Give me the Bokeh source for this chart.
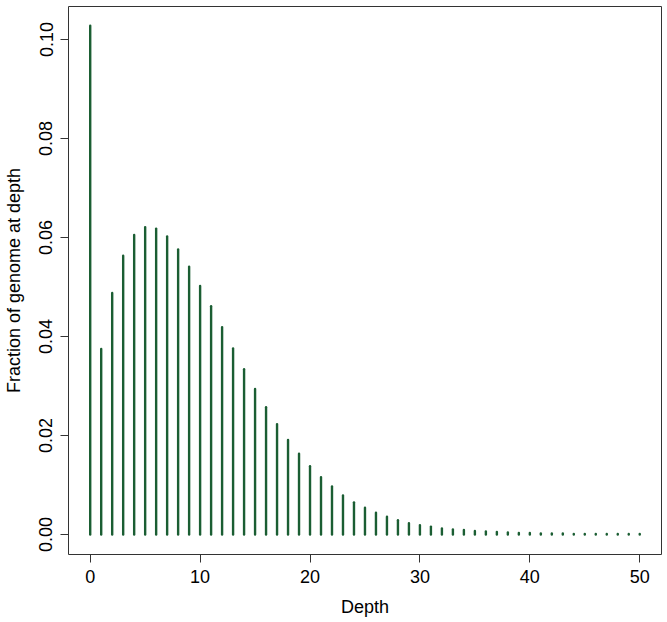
from bokeh.plotting import figure
from bokeh.models import Range1d, FixedTicker
from bokeh.embed import file_html
from bokeh.resources import INLINE

depth = list(range(51))
fraction = [
    0.1028, 0.0375, 0.0488, 0.0563, 0.0605, 0.0621, 0.0618, 0.0602, 0.0576, 0.0541,
    0.0502, 0.0461, 0.0419, 0.0376, 0.0334, 0.0294, 0.0257, 0.0223, 0.0191, 0.0163,
    0.0138, 0.0116, 0.0097, 0.0079, 0.0065, 0.0054, 0.0044, 0.0036, 0.0029, 0.0023,
    0.0019, 0.0016, 0.0012, 0.0010, 0.0009, 0.0007, 0.0006, 0.0005, 0.0004, 0.0003,
    0.0003, 0.0002, 0.0002, 0.0002, 0.0001, 0.0001, 0.0001, 0.0001, 0.0001, 0.0001,
    0.0001,
]
x_ticks = [0, 10, 20, 30, 40, 50]
y_ticks = [0.0, 0.02, 0.04, 0.06, 0.08, 0.10]
y_tick_labels = ["0.00", "0.02", "0.04", "0.06", "0.08", "0.10"]

FONT = "Liberation Sans"

p = figure(
    frame_width=593, frame_height=548,
    output_backend="svg", toolbar_location=None,
    x_range=Range1d(-1.975, 51.98), y_range=Range1d(-0.00404, 0.10667),
    min_border_top=6, min_border_right=6, min_border_left=67, min_border_bottom=0,
)
p.background_fill_color = "white"
p.border_fill_color = "white"
p.outline_line_color = "#333333"
p.outline_line_width = 1
p.grid.visible = False

p.segment(x0=depth, y0=[0] * len(depth), x1=depth, y1=fraction,
          line_color="#1b5e33", line_width=2.4, line_cap="round")

for ax in (p.xaxis[0], p.yaxis[0]):
    ax.axis_line_color = None
    ax.major_tick_line_color = "#333333"
    ax.major_tick_out = 8
    ax.major_tick_in = 0
    ax.minor_tick_line_color = None
    ax.major_label_text_font = FONT
    ax.major_label_text_font_size = "18px"
    ax.major_label_text_color = "black"
    ax.axis_label_text_font = FONT
    ax.axis_label_text_font_size = "18px"
    ax.axis_label_text_font_style = "normal"
    ax.axis_label_text_color = "black"

p.xaxis.ticker = FixedTicker(ticks=x_ticks)
p.yaxis.ticker = FixedTicker(ticks=y_ticks)
p.yaxis.major_label_overrides = {t: l for t, l in zip(y_ticks, y_tick_labels)}
p.yaxis.major_label_orientation = "vertical"
p.xaxis.axis_label = "Depth"
p.yaxis.axis_label = "Fraction of genome at depth"
p.xaxis.major_label_standoff = 7
p.xaxis.axis_label_standoff = 11
p.yaxis.major_label_standoff = 8
p.yaxis.axis_label_standoff = 13

open("out.html", "w").write(file_html(p, INLINE))
